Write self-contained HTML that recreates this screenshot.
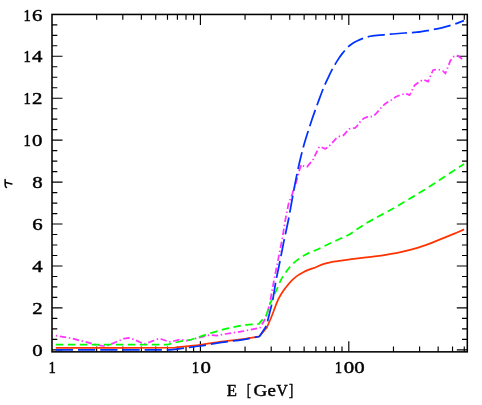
<!DOCTYPE html>
<html><head><meta charset="utf-8"><style>
html,body{margin:0;padding:0;background:#fff;}
svg{display:block;transform:translateZ(0);will-change:transform;}
</style></head><body>
<svg width="482" height="405" viewBox="0 0 482 405">
<rect width="482" height="405" fill="#fff"/>
<rect x="52.0" y="14.45" width="415.30" height="337.40" fill="none" stroke="#000" stroke-width="1.55"/>
<path d="M96.67 351.85 v-5.3 M96.67 14.45 v5.3 M122.80 351.85 v-5.3 M122.80 14.45 v5.3 M141.35 351.85 v-5.3 M141.35 14.45 v5.3 M155.73 351.85 v-5.3 M155.73 14.45 v5.3 M167.48 351.85 v-5.3 M167.48 14.45 v5.3 M177.41 351.85 v-5.3 M177.41 14.45 v5.3 M186.02 351.85 v-5.3 M186.02 14.45 v5.3 M193.61 351.85 v-5.3 M193.61 14.45 v5.3 M200.40 351.85 v-10.5 M200.40 14.45 v10.5 M245.07 351.85 v-5.3 M245.07 14.45 v5.3 M271.20 351.85 v-5.3 M271.20 14.45 v5.3 M289.75 351.85 v-5.3 M289.75 14.45 v5.3 M304.13 351.85 v-5.3 M304.13 14.45 v5.3 M315.88 351.85 v-5.3 M315.88 14.45 v5.3 M325.81 351.85 v-5.3 M325.81 14.45 v5.3 M334.42 351.85 v-5.3 M334.42 14.45 v5.3 M342.01 351.85 v-5.3 M342.01 14.45 v5.3 M348.80 351.85 v-10.5 M348.80 14.45 v10.5 M393.47 351.85 v-5.3 M393.47 14.45 v5.3 M419.60 351.85 v-5.3 M419.60 14.45 v5.3 M438.15 351.85 v-5.3 M438.15 14.45 v5.3 M452.53 351.85 v-5.3 M452.53 14.45 v5.3 M464.28 351.85 v-5.3 M464.28 14.45 v5.3 M52.0 349.85 h10.5 M467.3 349.85 h-10.5 M52.0 339.37 h5.3 M467.3 339.37 h-5.3 M52.0 328.88 h5.3 M467.3 328.88 h-5.3 M52.0 318.40 h5.3 M467.3 318.40 h-5.3 M52.0 307.91 h10.5 M467.3 307.91 h-10.5 M52.0 297.43 h5.3 M467.3 297.43 h-5.3 M52.0 286.94 h5.3 M467.3 286.94 h-5.3 M52.0 276.46 h5.3 M467.3 276.46 h-5.3 M52.0 265.97 h10.5 M467.3 265.97 h-10.5 M52.0 255.49 h5.3 M467.3 255.49 h-5.3 M52.0 245.00 h5.3 M467.3 245.00 h-5.3 M52.0 234.52 h5.3 M467.3 234.52 h-5.3 M52.0 224.03 h10.5 M467.3 224.03 h-10.5 M52.0 213.55 h5.3 M467.3 213.55 h-5.3 M52.0 203.06 h5.3 M467.3 203.06 h-5.3 M52.0 192.58 h5.3 M467.3 192.58 h-5.3 M52.0 182.09 h10.5 M467.3 182.09 h-10.5 M52.0 171.61 h5.3 M467.3 171.61 h-5.3 M52.0 161.12 h5.3 M467.3 161.12 h-5.3 M52.0 150.64 h5.3 M467.3 150.64 h-5.3 M52.0 140.15 h10.5 M467.3 140.15 h-10.5 M52.0 129.67 h5.3 M467.3 129.67 h-5.3 M52.0 119.18 h5.3 M467.3 119.18 h-5.3 M52.0 108.70 h5.3 M467.3 108.70 h-5.3 M52.0 98.21 h10.5 M467.3 98.21 h-10.5 M52.0 87.73 h5.3 M467.3 87.73 h-5.3 M52.0 77.24 h5.3 M467.3 77.24 h-5.3 M52.0 66.76 h5.3 M467.3 66.76 h-5.3 M52.0 56.27 h10.5 M467.3 56.27 h-10.5 M52.0 45.79 h5.3 M467.3 45.79 h-5.3 M52.0 35.30 h5.3 M467.3 35.30 h-5.3 M52.0 24.82 h5.3 M467.3 24.82 h-5.3" stroke="#000" stroke-width="1.15" fill="none"/>
<path d="M55.8 335.7 L70.0 338.0 L85.0 341.8 L97.0 345.0 L103.1 346.0 L108.0 345.5 L116.0 342.0 L124.0 338.6 L129.1 337.9 L134.0 339.5 L144.1 344.0 L150.0 342.0 L159.0 338.5 L164.0 340.0 L169.0 341.9 L174.0 341.0 L179.8 339.5 L186.4 340.7 L192.0 339.5 L200.0 337.4 L210.0 334.9 L216.6 335.7 L225.0 334.0 L243.2 331.2 L259.9 327.9 L266.4 316.9 L269.9 303.0 L274.0 280.2 L278.2 259.4 L282.3 238.7 L285.3 220.0 L288.5 204.0 L292.2 194.1 L295.9 183.0 L299.6 169.4 L301.5 164.4 L304.0 166.2 L307.0 166.9 L313.1 159.5 L319.3 146.7 L322.0 147.5 L325.5 148.9 L330.0 145.2 L336.7 137.8 L339.6 136.3 L343.4 135.3 L349.3 128.9 L355.2 127.8 L357.4 125.6 L360.4 121.5 L364.1 118.2 L368.6 116.4 L372.3 116.7 L375.3 114.5 L381.2 107.8 L385.6 103.4 L390.8 100.4 L396.0 96.7 L399.8 95.2 L405.9 93.5 L409.6 95.2 L414.6 85.3 L419.5 81.6 L423.2 79.6 L428.1 81.6 L433.1 70.0 L438.0 69.3 L443.0 71.0 L445.4 73.5 L450.4 60.6 L454.1 56.2 L457.8 55.7 L462.7 59.4" fill="none" stroke="#ff33ff" stroke-width="1.75" stroke-dasharray="6.4 2.7 1.4 2.7" stroke-dashoffset="9.1" stroke-linejoin="round"/>
<path d="M55.80 344.70 C93.20 344.63 130.60 344.57 168.00 344.50 C171.93 343.50 175.83 342.35 179.80 341.50 C183.64 340.68 187.59 340.42 191.40 339.50 C194.34 338.79 197.12 337.52 200.00 336.60 C207.18 334.32 214.31 331.81 221.60 329.90 C228.72 328.04 235.93 326.47 243.20 325.30 C248.39 324.47 253.67 324.37 258.90 323.90 C261.40 320.90 263.90 317.90 266.40 314.90 C267.57 311.27 268.58 307.58 269.90 304.00 C270.42 302.60 271.26 301.35 271.90 300.00 C273.46 296.68 275.00 293.35 276.50 290.00 C277.70 287.32 278.75 284.56 280.00 281.90 C280.88 280.02 281.82 278.17 282.90 276.40 C283.96 274.66 285.19 273.04 286.40 271.40 C287.53 269.87 288.64 268.32 289.90 266.90 C291.31 265.31 292.81 263.80 294.40 262.40 C295.81 261.16 297.36 260.08 298.90 259.00 C300.86 257.62 302.84 256.23 304.90 255.00 C306.47 254.06 308.13 253.25 309.80 252.50 C311.83 251.58 313.97 250.91 316.00 250.00 C319.90 248.25 323.72 246.31 327.60 244.50 C331.06 242.88 334.53 241.30 338.00 239.70 C341.47 238.10 345.10 236.82 348.40 234.90 C354.06 231.61 359.22 227.52 364.80 224.10 C369.62 221.15 374.65 218.53 379.60 215.80 C384.51 213.09 389.53 210.57 394.40 207.80 C399.43 204.94 404.34 201.87 409.30 198.90 C414.24 195.94 419.21 193.04 424.10 190.00 C429.08 186.91 433.99 183.70 438.90 180.50 C443.86 177.27 448.76 173.95 453.70 170.70 C457.16 168.42 460.63 166.17 464.10 163.90" fill="none" stroke="#00ff00" stroke-width="1.75" stroke-dasharray="7.5 4.5" stroke-linejoin="round"/>
<path d="M55.80 347.90 C95.53 347.80 135.27 347.70 175.00 347.60 C183.33 346.70 191.69 345.97 200.00 344.90 C207.22 343.97 214.38 342.57 221.60 341.60 C228.78 340.64 236.02 340.11 243.20 339.10 C248.63 338.34 254.00 337.23 259.40 336.30 C261.90 333.33 264.40 330.37 266.90 327.40 C268.67 323.27 270.52 319.17 272.20 315.00 C274.16 310.14 275.58 305.05 277.80 300.30 C279.49 296.69 281.71 293.34 283.90 290.00 C285.08 288.19 286.50 286.55 287.90 284.90 C289.50 283.01 291.10 281.11 292.90 279.40 C294.45 277.93 296.15 276.62 297.90 275.40 C299.49 274.29 301.19 273.32 302.90 272.40 C304.49 271.55 306.13 270.78 307.80 270.10 C309.43 269.44 311.15 269.03 312.80 268.40 C316.86 266.86 320.74 264.84 324.90 263.60 C328.94 262.40 333.14 261.80 337.30 261.10 C341.45 260.40 345.63 259.94 349.80 259.40 C353.93 258.87 358.07 258.40 362.20 257.90 C366.37 257.40 370.54 256.95 374.70 256.40 C378.84 255.85 382.98 255.26 387.10 254.60 C391.28 253.93 395.46 253.26 399.60 252.40 C403.76 251.53 407.90 250.54 412.00 249.40 C416.07 248.27 420.11 247.01 424.10 245.60 C429.08 243.84 433.98 241.84 438.90 239.90 C443.85 237.94 448.79 235.95 453.70 233.90 C457.19 232.45 460.63 230.90 464.10 229.40" fill="none" stroke="#ff3300" stroke-width="1.75" stroke-linejoin="round"/>
<path d="M55.80 349.95 C93.87 349.95 131.93 349.95 170.00 349.95 C175.00 349.30 180.00 348.66 185.00 348.00 C190.00 347.34 195.01 346.76 200.00 346.00 C207.22 344.90 214.38 343.47 221.60 342.40 C228.78 341.34 236.03 340.72 243.20 339.60 C248.63 338.75 254.00 337.53 259.40 336.50 C261.73 332.97 264.07 329.43 266.40 325.90 C267.30 322.27 268.21 318.64 269.10 315.00 C270.31 310.04 271.69 305.11 272.70 300.10 C273.89 294.17 274.59 288.15 275.70 282.20 C276.99 275.28 278.52 268.40 279.90 261.50 C281.29 254.57 282.58 247.62 284.00 240.70 C285.42 233.79 287.04 226.92 288.40 220.00 C289.77 213.02 290.91 206.00 292.20 199.00 C293.41 192.43 294.59 185.85 295.90 179.30 C297.06 173.52 298.28 167.75 299.60 162.00 C300.74 157.04 301.97 152.11 303.30 147.20 C304.43 143.04 305.71 138.92 307.00 134.80 C308.55 129.85 310.15 124.92 311.80 120.00 C313.22 115.78 314.70 111.59 316.20 107.40 C317.40 104.05 318.65 100.73 319.90 97.40 C321.31 93.66 322.67 89.89 324.20 86.20 C325.17 83.86 326.32 81.59 327.40 79.30 C328.66 76.63 329.81 73.91 331.20 71.30 C333.08 67.77 335.08 64.29 337.20 60.90 C338.81 58.32 340.53 55.80 342.40 53.40 C344.04 51.29 345.81 49.29 347.70 47.40 C349.06 46.04 350.52 44.79 352.10 43.70 C353.77 42.55 355.58 41.59 357.40 40.70 C359.32 39.76 361.30 38.96 363.30 38.20 C364.54 37.73 365.81 37.33 367.10 37.00 C368.82 36.56 370.55 36.15 372.30 35.90 C374.79 35.55 377.30 35.44 379.80 35.20 C382.80 34.91 385.80 34.59 388.80 34.30 C389.97 34.19 391.13 34.10 392.30 34.00 C396.43 33.66 400.56 33.30 404.70 33.00 C408.80 32.70 412.92 32.66 417.00 32.20 C421.16 31.73 425.28 30.93 429.40 30.20 C433.51 29.47 437.64 28.77 441.70 27.80 C445.88 26.80 450.01 25.62 454.10 24.30 C457.45 23.22 460.70 21.83 464.00 20.60" fill="none" stroke="#0033ff" stroke-width="1.75" stroke-dasharray="17.3 4.9" stroke-linejoin="round"/>
<g font-family="Liberation Serif, serif" font-size="17.5" fill="#000" stroke="#000" stroke-width="0.45" stroke-linejoin="round"><text transform="translate(37.50,356.05) scale(1.19,1)" text-anchor="middle">0</text><text transform="translate(37.50,314.11) scale(1.19,1)" text-anchor="middle">2</text><text transform="translate(37.50,272.17) scale(1.19,1)" text-anchor="middle">4</text><text transform="translate(37.50,230.23) scale(1.19,1)" text-anchor="middle">6</text><text transform="translate(37.50,188.29) scale(1.19,1)" text-anchor="middle">8</text><text transform="translate(27.10,146.35) scale(0.84,1)" text-anchor="middle">1</text><text transform="translate(37.30,146.35) scale(1.19,1)" text-anchor="middle">0</text><text transform="translate(27.10,104.41) scale(0.84,1)" text-anchor="middle">1</text><text transform="translate(37.30,104.41) scale(1.19,1)" text-anchor="middle">2</text><text transform="translate(27.10,62.47) scale(0.84,1)" text-anchor="middle">1</text><text transform="translate(37.30,62.47) scale(1.19,1)" text-anchor="middle">4</text><text transform="translate(27.10,20.53) scale(0.84,1)" text-anchor="middle">1</text><text transform="translate(37.30,20.53) scale(1.19,1)" text-anchor="middle">6</text><text transform="translate(52.25,372.60) scale(0.84,1)" text-anchor="middle">1</text><text transform="translate(195.30,372.60) scale(0.84,1)" text-anchor="middle">1</text><text transform="translate(205.60,372.60) scale(1.19,1)" text-anchor="middle">0</text><text transform="translate(338.50,372.60) scale(0.84,1)" text-anchor="middle">1</text><text transform="translate(348.90,372.60) scale(1.19,1)" text-anchor="middle">0</text><text transform="translate(359.50,372.60) scale(1.19,1)" text-anchor="middle">0</text><text transform="translate(226.77,395.6) scale(0.956,1)">E</text><text transform="translate(246.77,395.6) scale(0.739,1)">[</text><text transform="translate(253.56,395.6) scale(1.095,1)">G</text><text transform="translate(267.61,395.6) scale(1.081,1)">e</text><text transform="translate(276.49,395.6) scale(0.894,1)">V</text><text transform="translate(288.65,395.6) scale(0.792,1)">]</text></g>
<path d="M5.1 179.5 L5.2 185.3 Q5.3 186.9 6.5 187.5 M5.6 182.6 L11.9 183.9" fill="none" stroke="#000" stroke-width="1.5" stroke-linecap="round" stroke-linejoin="round"/>
</svg>
</body></html>
